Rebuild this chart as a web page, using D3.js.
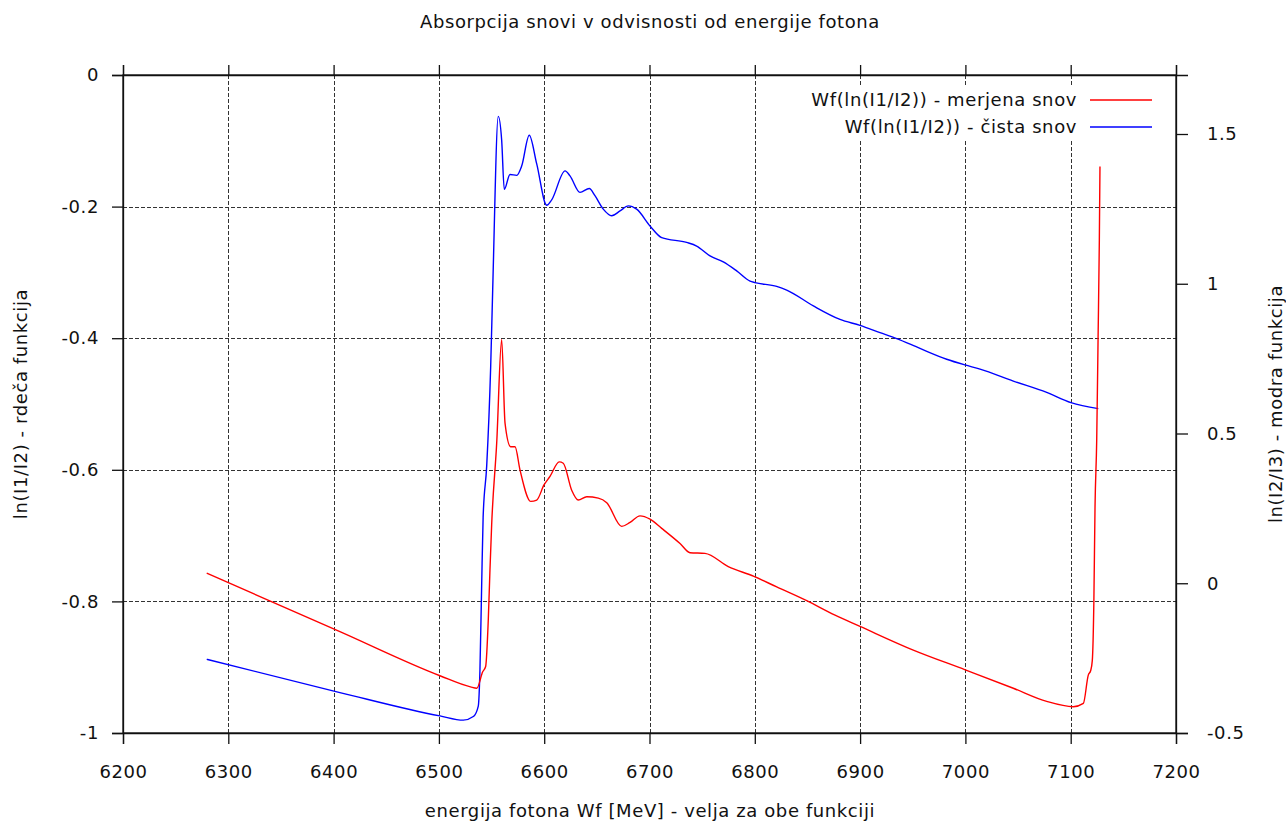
<!DOCTYPE html>
<html>
<head>
<meta charset="utf-8">
<script src="https://cdn.jsdelivr.net/npm/d3@7"></script>
<style>
  body { margin: 0; background: #fff; }
  svg { font-family: "DejaVu Sans", sans-serif; }
  svg text { letter-spacing: 0.6px; }
</style>
</head>
<body>
<svg id="chart"></svg>
<script>
// Data
const redEnergy = [6279.5, 6406, 6501, 6530, 6536, 6541.6, 6544.4, 6546.9, 6548.5, 6550.1, 6554.9, 6559.6,
  6562.8, 6568.2, 6572.3, 6577, 6587.2, 6592.9, 6599.8, 6605.5, 6614.3, 6618.1, 6626.1, 6632.4, 6640.4,
  6651.4, 6659.4, 6673.6, 6681.5, 6691, 6700.5, 6711.6, 6729, 6738.5, 6752.7, 6774.8, 6799.2, 6820.8,
  6849.3, 6876.2, 6899.9, 6950.5, 6999.9, 7045.5, 7077.2, 7102.5, 7112, 7116.7, 7119, 7120.5, 7122,
  7123.1, 7124.7, 7126, 7127.2, 7127.8];
const redValues = [-0.757, -0.846, -0.913, -0.930, -0.932, -0.907, -0.899, -0.828, -0.752, -0.684, -0.559, -0.402,
  -0.529, -0.565, -0.565, -0.600, -0.648, -0.646, -0.623, -0.610, -0.588, -0.590, -0.631, -0.646, -0.641,
  -0.643, -0.650, -0.686, -0.680, -0.670, -0.675, -0.689, -0.712, -0.726, -0.727, -0.747, -0.762, -0.778,
  -0.799, -0.821, -0.838, -0.874, -0.904, -0.932, -0.952, -0.960, -0.955, -0.912, -0.905, -0.890, -0.800,
  -0.656, -0.555, -0.400, -0.251, -0.139];

const blueEnergy = [6279.5, 6406, 6501, 6523.2, 6532.7, 6537.4, 6539, 6540.6, 6542, 6545.4, 6549.2, 6551.1,
  6556.4, 6559.6, 6562.1, 6567.5, 6573.9, 6578.6, 6585.8, 6592.9, 6602.4, 6607.1, 6619.8, 6624.5, 6634,
  6642.8, 6648.2, 6656.1, 6664.1, 6672, 6679.9, 6687.8, 6700.5, 6711.6, 6735.3, 6744.8, 6757.5, 6770.1,
  6782.8, 6795.5, 6800.2, 6820.8, 6830.3, 6855.6, 6880.9, 6899.9, 6918.9, 6934.8, 6956.9, 6982.2, 6999.6,
  7013.9, 7045.5, 7077.2, 7100.3, 7126.2];
const blueValues = [-0.254, -0.365, -0.443, -0.457, -0.445, -0.410, -0.287, -0.009, 0.220, 0.392, 0.726, 0.982,
  1.559, 1.480, 1.315, 1.365, 1.362, 1.393, 1.496, 1.400, 1.262, 1.280, 1.377, 1.360, 1.305,
  1.318, 1.294, 1.249, 1.227, 1.243, 1.260, 1.249, 1.193, 1.154, 1.138, 1.126, 1.093, 1.073,
  1.043, 1.009, 1.004, 0.991, 0.979, 0.926, 0.881, 0.861, 0.837, 0.817, 0.784, 0.748, 0.729,
  0.715, 0.675, 0.637, 0.603, 0.583];

const xTicks = [6200, 6300, 6400, 6500, 6600, 6700, 6800, 6900, 7000, 7100, 7200];
const yTicks = [0, -0.2, -0.4, -0.6, -0.8, -1];
const y2Ticks = [-0.5, 0, 0.5, 1, 1.5];
const seriesNames = ["Wf(ln(I1/I2)) - merjena snov", "Wf(ln(I1/I2)) - čista snov"];
const seriesColors = ["#ff0000", "#0000ff"];

// Layout
const width = 1286, height = 823;
const margin = { top: 75, right: 110, bottom: 90, left: 123 };
const innerW = width - margin.left - margin.right;
const innerH = height - margin.top - margin.bottom;
const fontSize = 18;
const ink = "#111";

const svg = d3.select("#chart")
  .attr("width", width)
  .attr("height", height);

const x = d3.scaleLinear().domain([6200, 7200]).range([margin.left, margin.left + innerW]);
const y = d3.scaleLinear().domain([-1, 0]).range([margin.top + innerH, margin.top]);
const y2 = d3.scaleLinear().domain([-0.5, 1.697]).range([margin.top + innerH, margin.top]);

// Grid
const grid = svg.append("g")
  .attr("stroke", "#333")
  .attr("stroke-width", 1)
  .attr("stroke-dasharray", "4,2");
grid.selectAll(".vgrid")
  .data(xTicks.slice(1, -1))
  .join("line")
  .attr("x1", d => Math.round(x(d)) + 0.5)
  .attr("x2", d => Math.round(x(d)) + 0.5)
  .attr("y1", margin.top)
  .attr("y2", margin.top + innerH);
grid.selectAll(".hgrid")
  .data(yTicks.slice(1, -1))
  .join("line")
  .attr("x1", margin.left)
  .attr("x2", margin.left + innerW)
  .attr("y1", d => Math.round(y(d)) + 0.5)
  .attr("y2", d => Math.round(y(d)) + 0.5);

// Axes
const tickFont = g => g.selectAll("text")
  .attr("font-size", fontSize)
  .attr("fill", ink)
  .attr("font-family", "DejaVu Sans, sans-serif");

svg.append("g")
  .attr("transform", `translate(0,${margin.top + innerH})`)
  .call(d3.axisBottom(x).tickValues(xTicks).tickFormat(d3.format("d")).tickSize(11).tickPadding(21))
  .call(tickFont);
svg.append("g")
  .attr("transform", `translate(0,${margin.top})`)
  .call(d3.axisTop(x).tickValues(xTicks).tickFormat("").tickSize(10));
svg.append("g")
  .attr("transform", `translate(${margin.left},0)`)
  .call(d3.axisLeft(y).tickValues(yTicks).tickFormat(d => d === 0 ? "0" : d === -1 ? "-1" : d3.format(".1f")(d)).tickSize(11).tickPadding(13))
  .call(tickFont);
svg.append("g")
  .attr("transform", `translate(${margin.left + innerW},0)`)
  .call(d3.axisRight(y2).tickValues(y2Ticks).tickFormat(d => d3.format("")(d)).tickSize(12).tickPadding(19))
  .call(tickFont);

svg.selectAll(".domain, .tick line")
  .attr("stroke", ink)
  .attr("stroke-width", 1.3);
svg.selectAll(".tick text").text(function () { return this.textContent.replace("−", "-"); });

// Frame
svg.append("rect")
  .attr("x", margin.left)
  .attr("y", margin.top)
  .attr("width", innerW)
  .attr("height", innerH)
  .attr("fill", "none")
  .attr("stroke", ink)
  .attr("stroke-width", 1.3);

// Legend background hides grid
svg.append("rect")
  .attr("x", 796)
  .attr("y", 86)
  .attr("width", 366)
  .attr("height", 54)
  .attr("fill", "#fff");

// Lines
const redLine = d3.line()
  .x((d, i) => x(redEnergy[i]))
  .y(d => y(d))
  .curve(d3.curveMonotoneX);
const blueLine = d3.line()
  .x((d, i) => x(blueEnergy[i]))
  .y(d => y2(d))
  .curve(d3.curveMonotoneX);

svg.append("path")
  .datum(blueValues)
  .attr("fill", "none")
  .attr("stroke", seriesColors[1])
  .attr("stroke-width", 1.4)
  .attr("d", blueLine);
svg.append("path")
  .datum(redValues)
  .attr("fill", "none")
  .attr("stroke", seriesColors[0])
  .attr("stroke-width", 1.4)
  .attr("d", redLine);

// Legend
const legend = svg.append("g");
seriesNames.forEach((name, i) => {
  const ly = 100 + i * 27;
  legend.append("text")
    .attr("x", 1077)
    .attr("y", ly + 6)
    .attr("text-anchor", "end")
    .attr("font-size", fontSize)
    .attr("fill", ink)
    .text(name);
  legend.append("line")
    .attr("x1", 1090)
    .attr("x2", 1152)
    .attr("y1", ly)
    .attr("y2", ly)
    .attr("stroke", seriesColors[i])
    .attr("stroke-width", 1.4);
});

// Titles
svg.append("text")
  .attr("x", 650)
  .attr("y", 28)
  .attr("text-anchor", "middle")
  .attr("font-size", fontSize)
  .attr("fill", ink)
  .text("Absorpcija snovi v odvisnosti od energije fotona");
svg.append("text")
  .attr("x", 650)
  .attr("y", 817)
  .attr("text-anchor", "middle")
  .attr("font-size", fontSize)
  .attr("fill", ink)
  .text("energija fotona Wf [MeV] - velja za obe funkciji");
svg.append("text")
  .attr("transform", `translate(27,404) rotate(-90)`)
  .attr("text-anchor", "middle")
  .attr("font-size", fontSize)
  .attr("fill", ink)
  .text("ln(I1/I2) - rdeča funkcija");
svg.append("text")
  .attr("transform", `translate(1282,404) rotate(-90)`)
  .attr("text-anchor", "middle")
  .attr("font-size", fontSize)
  .attr("fill", ink)
  .text("ln(I2/I3) - modra funkcija");
</script>
</body>
</html>
